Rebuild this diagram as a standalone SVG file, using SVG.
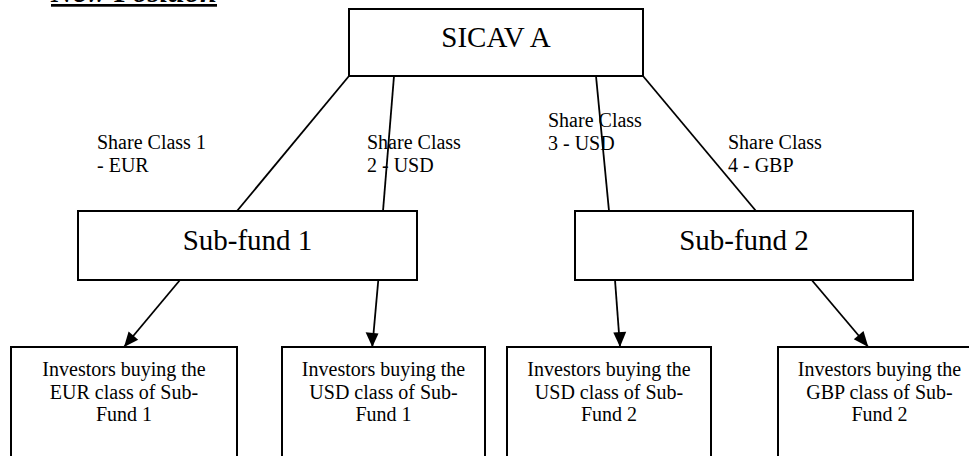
<svg xmlns="http://www.w3.org/2000/svg" width="969" height="456" viewBox="0 0 969 456">
<defs>
<style>
.box{fill:#fff;stroke:#000;stroke-width:2}
.ln{stroke:#000;stroke-width:1.8;fill:none}
.t{font-family:"Liberation Serif","Times New Roman",serif;fill:#000}
.big{font-size:29px;text-anchor:middle}
.lbl{font-size:20px}
.inv{font-size:20px;text-anchor:middle}
</style>
<marker id="ah" markerWidth="8" markerHeight="8" viewBox="0 0 16 14" refX="16" refY="7" orient="auto" markerUnits="userSpaceOnUse" style="overflow:visible">
<path d="M0,0 L16,7 L0,14 Z" fill="#000"/>
</marker>
</defs>
<rect width="969" height="456" fill="#fff"/>
<g id="title">
<text class="t" x="51" y="1.5" font-size="30" font-weight="bold" font-style="italic" textLength="166" lengthAdjust="spacingAndGlyphs">New Position</text>
<rect x="51" y="4" width="166" height="2.7" fill="#000"/>
</g>
<g id="connectors">
<line class="ln" x1="349" y1="76" x2="237" y2="211"/>
<line class="ln" x1="394" y1="76" x2="383" y2="211"/>
<line class="ln" x1="596" y1="76" x2="609" y2="211"/>
<line class="ln" x1="643" y1="76" x2="756" y2="211"/>
<path d="M180,280 L124,347" class="ln"/>
<path d="M378.3,280 L372.3,347" class="ln"/>
<path d="M615,280 L620,347" class="ln"/>
<path d="M811.7,280 L868.3,347" class="ln"/>
<g fill="#000">
<polygon points="124,347 128.6,331.6 138.2,339.7"/>
<polygon points="372.3,347 365.6,332.3 378.5,333.5"/>
<polygon points="620,347 613.3,332.5 626.2,331.8"/>
<polygon points="868.3,347 853.8,339.2 863.5,330.9"/>
</g>
</g>
<g id="label1" class="t lbl">
<text x="97" y="149">Share Class 1</text>
<text x="97" y="172">- EUR</text>
</g>
<g id="label2" class="t lbl">
<text x="367" y="149">Share Class</text>
<text x="367" y="172">2 - USD</text>
</g>
<g id="label3" class="t lbl">
<text x="548" y="127">Share Class</text>
<text x="548" y="150">3 - USD</text>
</g>
<g id="label4" class="t lbl">
<text x="728" y="149">Share Class</text>
<text x="728" y="172">4 - GBP</text>
</g>
<g id="sicav">
<rect class="box" x="349" y="9" width="294" height="67"/>
<text class="t big" x="496" y="47">SICAV A</text>
</g>
<g id="subfund1">
<rect class="box" x="78" y="211" width="339" height="69"/>
<text class="t big" x="247.5" y="250">Sub-fund 1</text>
</g>
<g id="subfund2">
<rect class="box" x="575" y="211" width="338" height="69"/>
<text class="t big" x="744" y="250">Sub-fund 2</text>
</g>
<g id="inv1">
<rect class="box" x="11" y="347" width="226" height="120"/>
<text class="t inv" x="124" y="376">Investors buying the</text>
<text class="t inv" x="124" y="398.5">EUR class of Sub-</text>
<text class="t inv" x="124" y="421">Fund 1</text>
</g>
<g id="inv2">
<rect class="box" x="282" y="347" width="203" height="120"/>
<text class="t inv" x="383.5" y="376">Investors buying the</text>
<text class="t inv" x="383.5" y="398.5">USD class of Sub-</text>
<text class="t inv" x="383.5" y="421">Fund 1</text>
</g>
<g id="inv3">
<rect class="box" x="507" y="347" width="204" height="120"/>
<text class="t inv" x="609" y="376">Investors buying the</text>
<text class="t inv" x="609" y="398.5">USD class of Sub-</text>
<text class="t inv" x="609" y="421">Fund 2</text>
</g>
<g id="inv4">
<rect class="box" x="778" y="347" width="203" height="120"/>
<text class="t inv" x="879.5" y="376">Investors buying the</text>
<text class="t inv" x="879.5" y="398.5">GBP class of Sub-</text>
<text class="t inv" x="879.5" y="421">Fund 2</text>
</g>
</svg>
